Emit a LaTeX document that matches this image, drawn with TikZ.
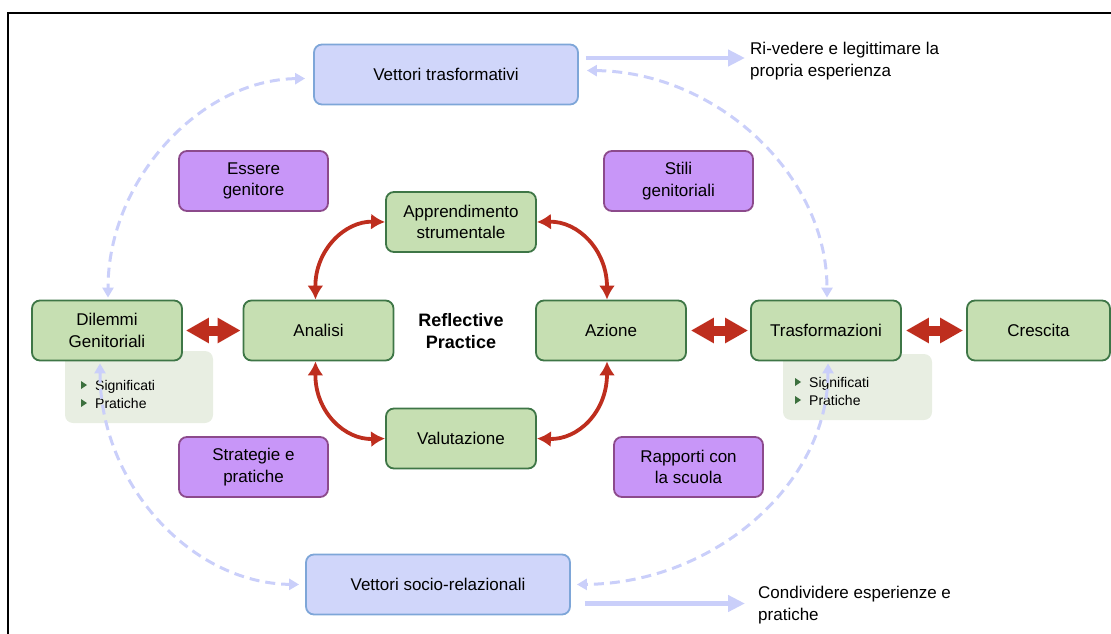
\documentclass[tikz,border=0pt]{standalone}
\usepackage{fontspec}
\setmainfont{Liberation Sans}
\usetikzlibrary{arrows.meta}

\definecolor{gfill}{RGB}{198,223,178}
\definecolor{gline}{RGB}{62,118,70}
\definecolor{pfill}{RGB}{200,150,248}
\definecolor{pline}{RGB}{140,74,140}
\definecolor{bfill}{RGB}{208,214,250}
\definecolor{bline}{RGB}{126,166,216}
\definecolor{lav}{RGB}{202,207,250}
\definecolor{redarr}{RGB}{190,46,30}
\definecolor{notefill}{RGB}{232,238,226}
\definecolor{bulletc}{RGB}{60,112,62}

\begin{document}
\begin{tikzpicture}[x=1pt,y=-1pt,
  box/.style={line width=1.8pt, rounded corners=8pt, minimum height=60pt,
    inner sep=2pt, align=center, font=\fontsize{17}{21.5}\selectfont},
  greenbox/.style={box, draw=gline, fill=gfill, minimum width=150pt},
  purplebox/.style={box, draw=pline, fill=pfill, minimum width=149pt},
  bluebox/.style={box, draw=bline, fill=bfill, minimum width=264pt},
  notebox/.style={fill=notefill, rounded corners=8pt, inner sep=0pt},
  bullettext/.style={anchor=west, align=left, inner sep=0pt,
    font=\fontsize{14}{18}\selectfont},
  redcurve/.style={draw=redarr, line width=3.8pt,
    {Latex[length=14pt,width=16pt]}-{Latex[length=14pt,width=16pt]}},
  fatarrow/.style={draw=redarr, line width=10pt,
    {Triangle[length=23pt,width=24pt]}-{Triangle[length=23pt,width=24pt]}},
  dashlink/.style={draw=lav, line width=3pt, dash pattern=on 10pt off 6pt,
    {Triangle[length=10pt,width=11pt]}-{Triangle[length=10pt,width=11pt]}},
  outlink/.style={draw=lav, line width=4.5pt,
    -{Triangle[length=17pt,width=16pt]}},
  plaintext/.style={anchor=west, align=left, inner sep=0pt,
    font=\fontsize{17}{22}\selectfont}
]
\useasboundingbox (0,0) rectangle (1111,634);
\clip (0,0) rectangle (1111,634);

% outer frame (runs past the right and bottom edges)
\draw[line width=2pt] (8,13.5) rectangle (1140,660);

% side notes behind the two dilemma / transformation boxes
\node[notebox, minimum width=148pt, minimum height=72pt] (n1) at (139,387) {};
\node[notebox, minimum width=149pt, minimum height=66pt] (n2) at (857.5,387) {};

\node[bullettext] (b1) at (95,394) {Significati\\Pratiche};
\node[bullettext] (b2) at (809,391) {Significati\\Pratiche};
\foreach \bx/\by in {81/385, 81/403, 795/382, 795/400}
  \fill[bulletc] (\bx,\by-4) -- (\bx+6,\by) -- (\bx,\by+4) -- cycle;

% vectors
\node[bluebox] (vt) at (446,74.5) {Vettori trasformativi};
\node[bluebox] (vs) at (438,584.5) {Vettori socio-relazionali};

% themes
\node[purplebox] (es) at (253.5,181) {Essere\\genitore};
\node[purplebox] (sg) at (678.5,181) {Stili\\genitoriali};
\node[purplebox] (sp) at (253.5,467) {Strategie e\\pratiche};
\node[purplebox] (rs) at (688.5,467) {Rapporti con\\la scuola};

% reflective cycle
\node[greenbox] (app) at (461,222) {Apprendimento\\strumentale};
\node[greenbox] (ana) at (318.5,330.5) {Analisi};
\node[greenbox] (az)  at (611,330.5) {Azione};
\node[greenbox] (val) at (461,438.5) {Valutazione};
\node[greenbox] (dil) at (107,330.5) {Dilemmi\\Genitoriali};
\node[greenbox] (tr)  at (826,330.5) {Trasformazioni};
\node[greenbox, minimum width=143pt] (cr) at (1038.5,330.5) {Crescita};

\node[align=center, font=\bfseries\fontsize{18}{22}\selectfont] (rp) at (461,331)
  {Reflective\\Practice};

% cycle arrows
\draw[redcurve] ([xshift=-3pt]ana.north) .. controls (315,250) and (345,221) .. (app.west);
\draw[redcurve] (app.east) .. controls (578,221) and (607,250) .. ([xshift=-4pt]az.north);
\draw[redcurve] ([xshift=-3pt]ana.south) .. controls (315,412) and (345,440) .. (val.west);
\draw[redcurve] (val.east) .. controls (578,440) and (607,412) .. ([xshift=-4pt]az.south);

\draw[fatarrow] ([xshift=3pt]dil.east) -- ([xshift=-2pt]ana.west);
\draw[fatarrow] ([xshift=4pt]az.east) -- ([xshift=-2pt]tr.west);
\draw[fatarrow] ([xshift=4pt]tr.east) -- ([xshift=-3pt]cr.west);

% dashed links to the vectors
\draw[dashlink] ([xshift=-8pt,yshift=-4pt]vt.west) .. controls (200,80) and (108,180) .. ([xshift=1pt,yshift=2pt]dil.north);
\draw[dashlink] ([xshift=8pt,yshift=4pt]vt.east) .. controls (716,72) and (827,174) .. ([xshift=1pt,yshift=2pt]tr.north);
\draw[dashlink] ([xshift=-7pt,yshift=-2pt]dil.south) .. controls (100,484) and (191,583) .. ([xshift=-6pt]vs.west);
\draw[dashlink] ([xshift=2pt,yshift=-2pt]tr.south) .. controls (828,484) and (714,583) .. ([xshift=6pt]vs.east);

% outcomes
\coordinate (rvend) at (745,58);
\coordinate (cdend) at (745,603.5);
\draw[outlink] ([xshift=7pt,yshift=16.5pt]vt.east) -- (rvend);
\draw[outlink] ([xshift=14pt,yshift=-19pt]vs.east) -- (cdend);
\node[plaintext] (rv) at (750,61) {Ri-vedere e legittimare la\\propria esperienza};
\node[plaintext] (cd) at (758,605) {Condividere esperienze e\\pratiche};
\end{tikzpicture}
\end{document}
